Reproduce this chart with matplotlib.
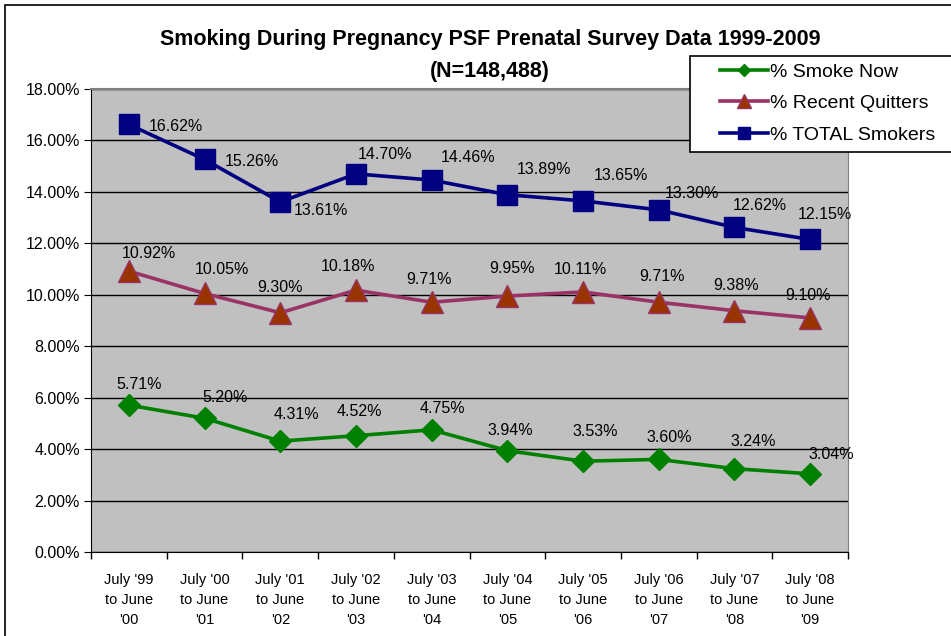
import numpy as np
import matplotlib.pyplot as plt
from matplotlib.patches import Rectangle
from matplotlib.ticker import FuncFormatter, MultipleLocator

plt.rcParams['font.family'] = ['Liberation Sans', 'DejaVu Sans']

periods = ["July '99\nto June\n'00", "July '00\nto June\n'01", "July '01\nto June\n'02",
           "July '02\nto June\n'03", "July '03\nto June\n'04", "July '04\nto June\n'05",
           "July '05\nto June\n'06", "July '06\nto June\n'07", "July '07\nto June\n'08",
           "July '08\nto June\n'09"]
smoke_now = [5.71, 5.20, 4.31, 4.52, 4.75, 3.94, 3.53, 3.60, 3.24, 3.04]
recent_quitters = [10.92, 10.05, 9.30, 10.18, 9.71, 9.95, 10.11, 9.71, 9.38, 9.10]
total_smokers = [16.62, 15.26, 13.61, 14.70, 14.46, 13.89, 13.65, 13.30, 12.62, 12.15]

# label offsets in pixels (dx, dy up), as placed in the original
smoke_off = [(10, 21), (21, 21), (16, 27), (3, 24), (11, 21),
             (3, 20), (12, 30), (10, 22), (19, 27), (21, 19)]
quit_off = [(20, 18), (17, 24), (0, 25), (-8, 24), (-3, 23),
            (5, 28), (-3, 22), (3, 26), (2, 25), (-2, 22)]
total_off = [(47, -2), (47, -2), (41, -9), (29, 19), (36, 23),
             (37, 25), (38, 25), (33, 16), (25, 22), (15, 25)]

x = np.arange(len(periods))

fig = plt.figure(figsize=(9.51, 6.36), dpi=100)
W, H = 951, 636
ax = fig.add_axes([91 / W, 1 - 552 / H, (848 - 91) / W, (552 - 89) / H])
ax.set_facecolor('#C0C0C0')

# outer chart border
fig.patches.append(Rectangle((5 / W, -0.05), 1.2, 1 - 5 / H + 0.05, transform=fig.transFigure,
                             fill=False, edgecolor='black', linewidth=1.2))

l1, = ax.plot(x, smoke_now, color='#008000', lw=2.6, marker='D', ms=11,
              mfc='#008000', mec='#008000', label='% Smoke Now', zorder=3)
l2, = ax.plot(x, recent_quitters, color='#993366', lw=2.6, marker='^', ms=16,
              mfc='#993300', mec='#993366', label='% Recent Quitters', zorder=3)
l3, = ax.plot(x, total_smokers, color='#000080', lw=2.6, marker='s', ms=14,
              mfc='#000080', mec='#000080', label='% TOTAL Smokers', zorder=3)

lab_kw = dict(textcoords='offset pixels', ha='center', va='center', fontsize=11.5, zorder=4)
for vals, offs in [(smoke_now, smoke_off), (recent_quitters, quit_off), (total_smokers, total_off)]:
    for xi, v, off in zip(x, vals, offs):
        ax.annotate(f'{v:.2f}%', (xi, v), xytext=off, **lab_kw)

ax.set_xlim(-0.5, len(periods) - 0.5)
ax.set_ylim(0, 18)
ax.yaxis.set_major_locator(MultipleLocator(2))
ax.yaxis.set_major_formatter(FuncFormatter(lambda v, p: f'{v:.2f}%'))
ax.grid(axis='y', color='black', lw=1)
ax.set_axisbelow(True)

ax.set_xticks(x)
ax.set_xticklabels(periods, fontsize=10.5, linespacing=1.55)
ax.tick_params(axis='x', length=0, pad=15)
ax.set_xticks(np.arange(-0.5, len(periods)), minor=True)
ax.tick_params(axis='x', which='minor', length=5, direction='out', width=1)
ax.tick_params(axis='y', length=5, direction='out', labelsize=11.5, pad=3)

ax.spines['left'].set_color('black')
ax.spines['bottom'].set_color('black')
ax.spines['top'].set_color('#808080')
ax.spines['right'].set_color('#808080')
ax.spines['top'].set_linewidth(1.5)

fig.text(490 / W, 1 - 40 / H, 'Smoking During Pregnancy PSF Prenatal Survey Data 1999-2009',
         ha='center', va='center', fontsize=15.5, fontweight='bold')
fig.text(490 / W, 1 - 72 / H, '(N=148,488)', ha='center', va='center',
         fontsize=15.5, fontweight='bold')

# legend box, open to the right like the original
fig.patches.append(Rectangle((690 / W, 1 - 152 / H), 0.5, 96 / H, transform=fig.transFigure,
                             facecolor='white', edgecolor='black', linewidth=1.2, zorder=5))
leg = fig.legend(handles=[l1, l2, l3], loc='upper left',
                 bbox_to_anchor=(720 / W, 1 - 63 / H), fontsize=14,
                 frameon=False, handlelength=2.47, handletextpad=0.1,
                 labelspacing=0.72, borderpad=0, borderaxespad=0, markerscale=0.6)
leg.set_zorder(6)

fig.savefig('out.png', dpi=100)
